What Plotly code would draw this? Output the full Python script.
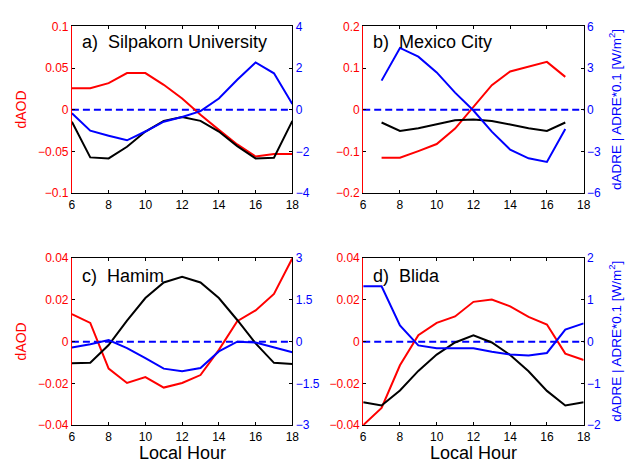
import plotly.graph_objects as go

W, H = 632, 468

hours = list(range(6, 19))
hours_b = list(range(7, 18))

panel_titles = ["a)\u00a0\u00a0Silpakorn University", "b)\u00a0\u00a0Mexico City",
                "c)\u00a0\u00a0Hamim", "d)\u00a0\u00a0Blida"]

# Panel a) Silpakorn University
a_daod = [0.026, 0.026, 0.032, 0.044, 0.044, 0.030, 0.0136, -0.006, -0.024, -0.0415, -0.056, -0.053, -0.053]
a_dadre = [-0.16, -1.0, -1.24, -1.46, -1.04, -0.57, -0.34, -0.06, 0.54, 1.44, 2.27, 1.75, 0.28]
a_adre = [-0.57, -2.28, -2.33, -1.77, -1.04, -0.53, -0.34, -0.53, -1.04, -1.74, -2.33, -2.30, -0.53]

# Panel b) Mexico City
b_daod = [-0.115, -0.115, -0.099, -0.082, -0.045, 0.006, 0.059, 0.092, 0.104, 0.115, 0.079]
b_dadre = [2.1, 4.45, 3.82, 2.69, 1.24, -0.05, -1.57, -2.86, -3.49, -3.75, -1.38]
b_adre = [-0.91, -1.52, -1.33, -1.03, -0.75, -0.70, -0.80, -1.05, -1.33, -1.52, -0.91]

# Panel c) Hamim
c_daod = [0.0132, 0.009, -0.0129, -0.0198, -0.017, -0.022, -0.0198, -0.016, -0.0039, 0.0098, 0.015, 0.0229, 0.040]
c_dadre = [-0.21, -0.09, 0.06, -0.23, -0.59, -0.97, -1.06, -0.95, -0.35, 0.0, -0.03, -0.20, -0.38]
c_adre = [-0.78, -0.76, -0.12, 0.76, 1.57, 2.13, 2.33, 2.13, 1.57, 0.78, -0.06, -0.76, -0.80]

# Panel d) Blida
d_daod = [-0.040, -0.0318, -0.0113, 0.0031, 0.009, 0.0121, 0.0191, 0.0202, 0.0169, 0.0119, 0.0082, -0.0057, -0.0088]
d_dadre = [1.33, 1.33, 0.39, -0.09, -0.16, -0.16, -0.16, -0.24, -0.31, -0.33, -0.27, 0.29, 0.44]
d_adre = [-1.45, -1.53, -1.17, -0.70, -0.31, -0.02, 0.155, -0.02, -0.32, -0.71, -1.18, -1.53, -1.45]

left_ticks = [[0.1, 0.05, 0, -0.05, -0.1], [0.2, 0.1, 0, -0.1, -0.2],
              [0.04, 0.02, 0, -0.02, -0.04], [0.04, 0.02, 0, -0.02, -0.04]]
right_ticks = [[4, 2, 0, -2, -4], [6, 3, 0, -3, -6],
               [3, 1.5, 0, -1.5, -3], [2, 1, 0, -1, -2]]
x_ticks = [6, 8, 10, 12, 14, 16, 18]

panels = [
    (hours, a_daod, a_dadre, a_adre),
    (hours_b, b_daod, b_dadre, b_adre),
    (hours, c_daod, c_dadre, c_adre),
    (hours, d_daod, d_dadre, d_adre),
]

# pixel boxes (left, right, top, bottom)
boxes = [(70, 294, 20, 192), (366, 590, 20, 192), (70, 294, 259, 431), (366, 590, 259, 431)]

def px(x):
    return x / W

def py(y):
    return 1 - y / H

FONT = "Liberation Sans, Arial, Helvetica, sans-serif"
RED = "#ff0000"
BLUE = "#0000ff"

fig = go.Figure()
layout = dict(
    width=W, height=H, margin=dict(l=0, r=0, t=0, b=0),
    paper_bgcolor="white", plot_bgcolor="white", showlegend=False,
    font=dict(family=FONT, size=12, color="black"),
)
annotations = []
shapes = []

for i, (hx, daod, dadre, adre) in enumerate(panels):
    n = i + 1
    xa = f"x{n}" if n > 1 else "x"
    yl_id = 2 * i + 1
    yr_id = 2 * i + 2
    yl = f"y{yl_id}" if yl_id > 1 else "y"
    yr = f"y{yr_id}"
    l, r, t, b = boxes[i]
    xkey = "xaxis" if n == 1 else f"xaxis{n}"
    ylkey = "yaxis" if yl_id == 1 else f"yaxis{yl_id}"
    yrkey = f"yaxis{yr_id}"

    layout[xkey] = dict(
        domain=[px(l), px(r)], anchor=yl, range=[6, 18], tickvals=x_ticks,
        ticks="inside", ticklen=3, tickcolor="black", mirror="ticks",
        showline=True, linecolor="black", linewidth=1, showgrid=False, zeroline=False,
        tickfont=dict(size=12, color="black"),
    )
    lt = left_ticks[i]
    layout[ylkey] = dict(
        domain=[py(b), py(t)], anchor=xa, range=[lt[-1], lt[0]], tickvals=lt,
        ticks="inside", ticklen=3, tickcolor="black",
        showline=True, linecolor=RED, linewidth=1, showgrid=False, zeroline=False,
        tickfont=dict(size=12, color=RED),
    )
    rt = right_ticks[i]
    layout[yrkey] = dict(
        domain=[py(b), py(t)], anchor=xa, overlaying=yl, side="right",
        range=[rt[-1], rt[0]], tickvals=rt,
        ticks="inside", ticklen=3, tickcolor="black",
        showline=True, linecolor="black", linewidth=1, showgrid=False, zeroline=False,
        tickfont=dict(size=12, color=BLUE),
    )

    shapes.append(dict(type="line", xref=f"{xa} domain", yref=yr, x0=0, x1=1, y0=0, y1=0,
                       line=dict(color=BLUE, width=2, dash="7px,4px"), layer="below"))

    fig.add_trace(go.Scatter(x=hx, y=adre, mode="lines", line=dict(color="black", width=2),
                             xaxis=xa, yaxis=yr))
    fig.add_trace(go.Scatter(x=hx, y=dadre, mode="lines", line=dict(color=BLUE, width=2),
                             xaxis=xa, yaxis=yr))
    fig.add_trace(go.Scatter(x=hx, y=daod, mode="lines", line=dict(color=RED, width=2),
                             xaxis=xa, yaxis=yl))

    ty = t + (16 if i < 2 else 18)
    annotations.append(dict(text=panel_titles[i], x=px(l + 8), y=py(ty), xref="paper", yref="paper",
                            xanchor="left", yanchor="middle", showarrow=False,
                            font=dict(size=18, color="black", family=FONT)))

    if i in (0, 2):
        annotations.append(dict(text="dAOD", x=px(18), y=py((t + b) / 2), xref="paper", yref="paper",
                                textangle=-90, showarrow=False, xanchor="center", yanchor="middle",
                                font=dict(size=14, color=RED, family=FONT)))
    if i in (1, 3):
        annotations.append(dict(text="dADRE | ADRE*0.1 [W/m<sup>2</sup>]", x=px(622), y=py((t + b) / 2),
                                xref="paper", yref="paper", textangle=-90, showarrow=False,
                                xanchor="center", yanchor="middle",
                                font=dict(size=13.5, color=BLUE, family=FONT)))
    if i in (2, 3):
        annotations.append(dict(text="Local Hour", x=px((l + r) / 2), y=py(460), xref="paper", yref="paper",
                                showarrow=False, xanchor="center", yanchor="middle",
                                font=dict(size=18, color="black", family=FONT)))

layout["annotations"] = annotations
layout["shapes"] = shapes
fig.update_layout(**layout)
fig.write_html("out.html", config={"displayModeBar": False},
               post_script="document.body.style.margin='0';")
